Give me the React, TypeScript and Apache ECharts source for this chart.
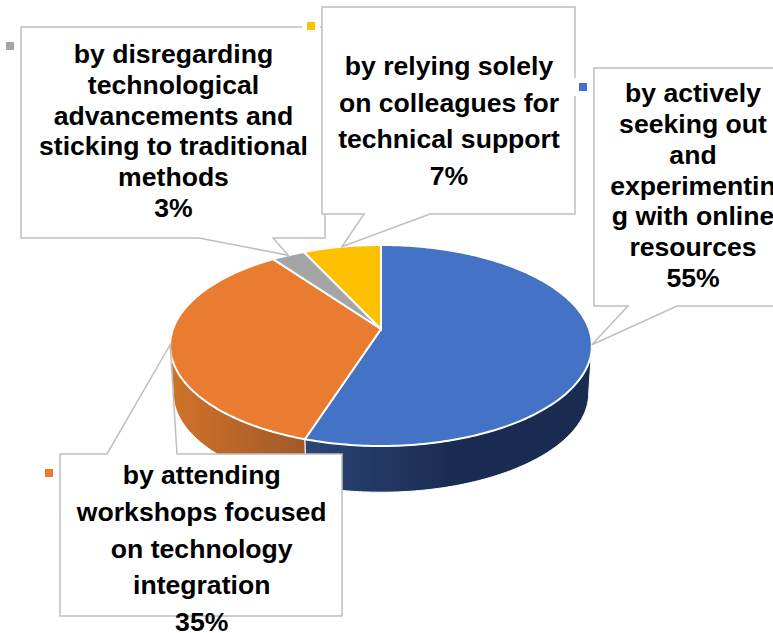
import React, { useEffect, useRef } from "react";
import * as echarts from "echarts";

const categories = [
  "by actively\nseeking out\nand\nexperimentin\ng with online\nresources",
  "by attending\nworkshops focused\non technology\nintegration",
  "by disregarding\ntechnological\nadvancements and\nsticking to traditional\nmethods",
  "by relying solely\non colleagues for\ntechnical support",
];
const values = [55, 35, 3, 7];
const colors = ["#4472C4", "#E97C30", "#A5A5A5", "#FFC000"];
const wallStops = [
  ["#2B4576", "#1A2C52", "#1A2B50"],
  ["#D0732B", "#B9652A", "#A05A28"],
  ["#7F7F7F", "#7F7F7F", "#7F7F7F"],
  ["#BF9000", "#BF9000", "#BF9000"],
];

// Projected disc: circle centre, half axes, perspective strength, wall height.
const CX = 381;
const CY = 329;
const RX = 208;
const RY = 97.8;
const PERSP = 0.164;
const WALL_DROP = 48;
const WALL_SCALE = 0.985;
// Rim angle where the projected disc is widest: walls are only visible in front of it.
const WALL_FROM = Math.acos(-PERSP);
const WALL_TO = Math.PI * 2 - WALL_FROM;

const total = values.reduce((a, b) => a + b, 0);
const startPct = (i: number) => values.slice(0, i).reduce((a, b) => a + b, 0) / total;
const endPct = (i: number) => startPct(i) + values[i] / total;

function rim(theta: number, scale = 1, drop = 0): number[] {
  const u = Math.sin(theta);
  const v = -Math.cos(theta);
  const w = 1 - PERSP * v;
  return [CX + (scale * RX * u) / w, CY + drop + (scale * RY * v) / w];
}

function arc(a: number, b: number, scale = 1, drop = 0): number[][] {
  const n = Math.max(2, Math.ceil(((b - a) * 180) / Math.PI));
  const pts: number[][] = [];
  for (let k = 0; k <= n; k++) pts.push(rim(a + ((b - a) * k) / n, scale, drop));
  return pts;
}

// Callout layout: box, wedge base on the box edge, text anchor, marker.
const callouts = [
  { box: [594, 68, 790, 306], base: [628, 677], side: "bottom", text: [693, 185.5], lh: 30.8, marker: [579, 83] },
  { box: [60, 454, 342, 616], base: [177, 107], side: "top", text: [201.7, 548.5], lh: 36.7, marker: [45, 469] },
  { box: [21, 27, 325, 238], base: [199, 273], side: "bottom", text: [173.5, 131], lh: 30.8, marker: [6, 42] },
  { box: [322, 7, 575, 214], base: [364, 430], side: "bottom", text: [449, 121], lh: 36.7, marker: [307, 22] },
];

function calloutPoints(i: number): number[][] {
  const c = callouts[i];
  const [l, t, r, b] = c.box;
  const tip = rim(((startPct(i) + endPct(i)) / 2) * Math.PI * 2);
  if (c.side === "top") {
    return [[l, t], [c.base[1], t], tip, [c.base[0], t], [r, t], [r, b], [l, b]];
  }
  return [[l, t], [r, t], [r, b], [c.base[1], b], tip, [c.base[0], b], [l, b]];
}

const DRAW_ORDER = [2, 3, 0, 1];

export default function App() {
  const ref = useRef<HTMLDivElement>(null);
  useEffect(() => {
    document.body.style.margin = "0";
    const chart = echarts.init(ref.current!, undefined, { renderer: "svg" });
    const graphics: any[] = [];
    DRAW_ORDER.forEach((i, order) => {
      graphics.push({
        type: "polygon",
        z: 10 + order,
        shape: { points: calloutPoints(i) },
        style: { fill: "#fff", stroke: "#BFBFBF", lineWidth: 1.5 },
      });
    });
    DRAW_ORDER.forEach((i) => {
      const c = callouts[i];
      graphics.push({
        type: "rect",
        z: 20,
        shape: { x: c.marker[0] - 5, y: c.marker[1] - 5, width: 18, height: 18 },
        style: { fill: "#fff" },
      });
      graphics.push({
        type: "rect",
        z: 21,
        shape: { x: c.marker[0], y: c.marker[1], width: 8, height: 8 },
        style: { fill: colors[i] },
      });
      graphics.push({
        type: "text",
        z: 22,
        x: c.text[0],
        y: c.text[1],
        style: {
          text: `${categories[i]}\n${values[i]}%`,
          font: '700 26.6px "Liberation Sans"',
          lineHeight: c.lh,
          fill: "#000",
          align: "center",
          verticalAlign: "middle",
        },
      });
    });

    chart.setOption({
      animation: false,
      backgroundColor: "#fff",
      graphic: graphics,
      series: [
        {
          type: "custom",
          coordinateSystem: "none",
          z: 1,
          data: values,
          renderItem: (params: any) => {
            const i = params.dataIndex;
            const a = Math.max(startPct(i) * Math.PI * 2, WALL_FROM);
            const b = Math.min(endPct(i) * Math.PI * 2, WALL_TO);
            if (b <= a) return { type: "group", children: [] };
            const pts = [...arc(a, b), ...arc(a, b, WALL_SCALE, WALL_DROP).reverse()];
            return {
              type: "polygon",
              shape: { points: pts },
              style: {
                fill: new echarts.graphic.LinearGradient(0, 0, 1, 0, [
                  { offset: 0, color: wallStops[i][0] },
                  { offset: 0.5, color: wallStops[i][1] },
                  { offset: 1, color: wallStops[i][2] },
                ]),
                stroke: "#fff",
                lineWidth: 1,
              },
            };
          },
        },
        {
          type: "custom",
          coordinateSystem: "none",
          z: 2,
          data: values,
          renderItem: (params: any) => {
            const i = params.dataIndex;
            const a = startPct(i) * Math.PI * 2;
            const b = endPct(i) * Math.PI * 2;
            return {
              type: "polygon",
              shape: { points: [[CX, CY], ...arc(a, b)] },
              style: { fill: colors[i], stroke: "#fff", lineWidth: 2 },
            };
          },
        },
      ],
    });
    return () => chart.dispose();
  }, []);
  return <div ref={ref} style={{ width: 773, height: 633 }} />;
}
